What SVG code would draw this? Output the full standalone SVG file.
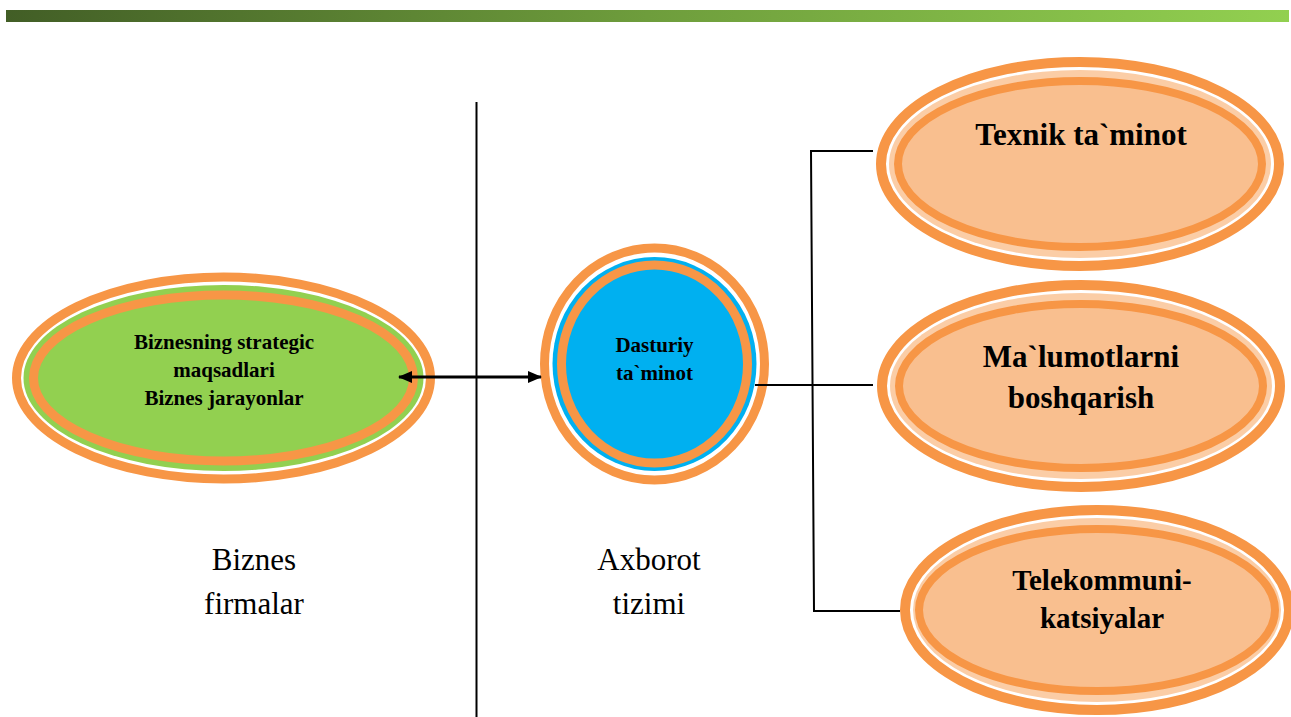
<svg xmlns="http://www.w3.org/2000/svg" width="1291" height="717" viewBox="0 0 1291 717">
<defs>
<linearGradient id="bar" x1="0" y1="0" x2="1" y2="0">
<stop offset="0" stop-color="#425e26"/>
<stop offset="0.5" stop-color="#6e9d3c"/>
<stop offset="1" stop-color="#92d050"/>
</linearGradient>
<marker id="ah" viewBox="0 0 14 12" refX="13" refY="6" markerWidth="14" markerHeight="12" markerUnits="userSpaceOnUse" orient="auto-start-reverse">
<path d="M0,0 L14,6 L0,12 Z" fill="#000"/>
</marker>
<style>
.ring{fill:#ffffff;stroke:#f79646;stroke-width:10}
.ringin{stroke:#f79646;stroke-width:8}
.band{fill:#fbcda6}
.peach{fill:#f9bf8f}
.bold{font-family:"Liberation Serif","Times New Roman",serif;font-weight:bold;fill:#000;text-anchor:middle}
.reg{font-family:"Liberation Serif","Times New Roman",serif;font-size:31px;fill:#000;text-anchor:middle}
.conn{stroke:#000;stroke-width:2;fill:none}
</style>
</defs>
<rect x="0" y="0" width="1291" height="717" fill="#ffffff"/>
<rect x="6" y="10" width="1283" height="12" fill="url(#bar)"/>

<g id="node-biznes">
<ellipse cx="223.5" cy="378" rx="207" ry="101" fill="#ffffff" stroke="#f79646" stroke-width="9"/>
<ellipse cx="223.5" cy="378" rx="200" ry="93" fill="#92d050"/>
<ellipse cx="223.5" cy="378" rx="190" ry="83" fill="#92d050" stroke="#f79646" stroke-width="9"/>
<text class="bold" font-size="21" x="224" y="349">Biznesning strategic</text>
<text class="bold" font-size="21" x="224" y="377">maqsadlari</text>
<text class="bold" font-size="21" x="224" y="405">Biznes jarayonlar</text>
</g>

<g id="node-dasturiy">
<ellipse cx="654.5" cy="364" rx="110" ry="116" fill="#ffffff" stroke="#f79646" stroke-width="9"/>
<ellipse cx="654.5" cy="364" rx="102" ry="107" fill="#00b0f0"/>
<ellipse cx="654.5" cy="364" rx="93" ry="99" fill="#00b0f0" stroke="#f79646" stroke-width="9"/>
<text class="bold" font-size="21" x="654.5" y="352">Dasturiy</text>
<text class="bold" font-size="21" x="654.5" y="380">ta`minot</text>
</g>

<g id="node-texnik">
<ellipse class="ring" cx="1080" cy="164" rx="199" ry="102"/>
<ellipse class="band" cx="1080" cy="164" rx="191" ry="94"/>
<ellipse class="ringin peach" cx="1080" cy="164" rx="182" ry="83"/>
<text class="bold" font-size="31" x="1081" y="145">Texnik ta`minot</text>
</g>

<g id="node-malumot">
<ellipse class="ring" cx="1081" cy="386" rx="199" ry="101"/>
<ellipse class="band" cx="1081" cy="386" rx="191" ry="93"/>
<ellipse class="ringin peach" cx="1081" cy="386" rx="182" ry="82"/>
<text class="bold" font-size="31" x="1081" y="367">Ma`lumotlarni</text>
<text class="bold" font-size="31" x="1081" y="408">boshqarish</text>
</g>

<g id="node-telekom">
<ellipse class="ring" cx="1097" cy="610" rx="192" ry="100"/>
<ellipse class="band" cx="1097" cy="610" rx="184" ry="92"/>
<ellipse class="ringin peach" cx="1097" cy="610" rx="178" ry="81"/>
<text class="bold" font-size="29" x="1102" y="590">Telekommuni-</text>
<text class="bold" font-size="29" x="1102" y="628">katsiyalar</text>
</g>

<g id="labels">
<text class="reg" x="254" y="570">Biznes</text>
<text class="reg" x="254" y="614">firmalar</text>
<text class="reg" x="649" y="570">Axborot</text>
<text class="reg" x="649" y="614">tizimi</text>
</g>

<g id="connectors">
<line x1="476.5" y1="102" x2="476.5" y2="717" stroke="#000" stroke-width="2"/>
<line x1="399" y1="377" x2="541" y2="377" stroke="#000" stroke-width="3" marker-start="url(#ah)" marker-end="url(#ah)"/>
<line x1="755" y1="385" x2="873" y2="385" class="conn"/>
<polyline points="873,151 811,151 814,611 900,611" class="conn"/>
</g>
</svg>
